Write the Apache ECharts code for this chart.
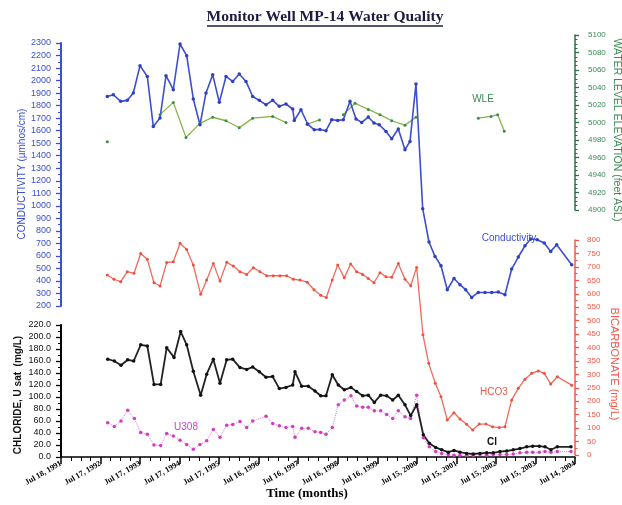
<!DOCTYPE html>
<html><head><meta charset="utf-8">
<script src="https://cdn.jsdelivr.net/npm/echarts@6/dist/echarts.min.js"></script>
<style>html,body{margin:0;padding:0;background:#fff}#c{width:622px;height:505px}</style>
</head><body><div id="c"></div><script>
// x values are years elapsed since Jul 18, 1991
const xTickLabels = ['Jul 18, 1991','Jul 17, 1992','Jul 17, 1993','Jul 17, 1994','Jul 17, 1995','Jul 16, 1996','Jul 16, 1997','Jul 16, 1998','Jul 16, 1999','Jul 15, 2000','Jul 15, 2001','Jul 15, 2002','Jul 15, 2003','Jul 14, 2004'];

const condT = [1.171,1.323,1.510,1.677,1.829,1.998,2.183,2.334,2.504,2.656,2.840,3.010,3.179,3.346,3.515,3.667,3.837,4.004,4.173,4.342,4.509,4.679,4.848,5.015,5.185,5.354,5.521,5.690,5.860,5.900,6.070,6.239,6.406,6.550,6.702,6.846,6.998,7.140,7.309,7.461,7.605,7.772,7.916,8.050,8.220,8.364,8.531,8.700,8.827,8.978,9.148,9.307,9.459,9.611,9.770,9.939,10.091,10.235,10.387,10.554,10.723,10.893,11.060,11.229,11.398,11.566,11.735,11.879,12.046,12.223,12.385,12.537,12.916];
const condV = [1873,1887,1834,1842,1901,2119,2033,1634,1701,2039,1927,2292,2199,1853,1647,1901,2047,1826,2033,1993,2052,1993,1873,1842,1807,1842,1794,1813,1773,1682,1767,1653,1607,1610,1600,1687,1682,1687,1834,1693,1666,1709,1661,1647,1594,1536,1613,1448,1514,1973,977,711,596,521,330,420,370,330,268,308,308,308,311,290,495,591,681,735,729,703,636,689,529];

const wleT = [1.171,1.3,2.504,2.840,3.161,3.515,3.837,4.173,4.509,4.848,5.354,5.690,5.9,6.221,6.538,6.8,7.140,7.436,7.772,8.068,8.364,8.700,8.978,9.2,10.554,10.875,11.044,11.211];
const wleV = [4978,null,5009,5023,4983,4999,5006,5002,4994,5005,5007,5000,null,4998,5003,null,5009,5022,5015,5009,5002,4997,5006,null,5005,5007,5009,4990];

const hco3T = [1.171,1.340,1.510,1.677,1.846,2.016,2.183,2.352,2.504,2.673,2.840,3.010,3.179,3.346,3.533,3.685,3.852,4.021,4.191,4.358,4.527,4.697,4.863,5.033,5.202,5.369,5.539,5.708,5.875,6.044,6.229,6.399,6.568,6.710,6.861,6.998,7.165,7.327,7.478,7.630,7.772,7.916,8.068,8.220,8.364,8.531,8.700,8.844,8.996,9.155,9.300,9.467,9.611,9.770,9.939,10.091,10.260,10.412,10.579,10.749,10.918,11.085,11.229,11.398,11.566,11.735,11.904,12.071,12.223,12.385,12.552,12.916];
const hco3V = [670,654,645,682,676,750,728,641,629,716,719,788,765,707,598,651,713,647,717,703,682,672,697,682,667,667,667,667,654,651,643,615,594,586,651,707,660,711,682,672,657,641,678,663,661,713,654,630,698,447,341,267,217,130,157,134,114,93,115,115,105,102,105,205,248,282,304,313,304,264,291,260];

const clT = [1.181,1.348,1.517,1.687,1.839,2.016,2.183,2.352,2.521,2.673,2.858,3.027,3.179,3.346,3.533,3.685,3.852,4.021,4.191,4.342,4.527,4.697,4.848,5.015,5.185,5.354,5.521,5.690,5.860,5.918,6.087,6.254,6.424,6.568,6.702,6.861,7.013,7.165,7.334,7.478,7.630,7.772,7.924,8.085,8.237,8.389,8.531,8.700,8.844,8.996,9.163,9.315,9.477,9.628,9.795,9.939,10.091,10.260,10.427,10.597,10.766,10.933,11.103,11.272,11.439,11.608,11.778,11.930,12.097,12.241,12.392,12.552,12.898];
const clV = [163,160,153,162,160,187,185,121,121,182,166,209,187,143,103,138,163,123,162,163,149,146,150,142,133,134,114,116,120,142,118,118,110,102,102,137,120,112,116,109,102,103,91,103,102,95,103,87,69,87,37,23,16,12,8,11,8,6,5,6,7,7,9,10,12,14,17,18,18,17,12,17,17];

const u3o8T = [1.181,1.348,1.517,1.687,1.855,2.016,2.183,2.352,2.521,2.673,2.840,3.010,3.179,3.346,3.515,3.685,3.852,4.021,4.191,4.342,4.527,4.697,4.848,5.185,5.354,5.521,5.690,5.860,5.918,6.087,6.254,6.424,6.568,6.702,6.861,7.013,7.165,7.334,7.478,7.630,7.772,7.924,8.085,8.237,8.389,8.531,8.700,8.844,8.996,9.163,9.315,9.477,9.628,9.795,9.939,10.091,10.260,10.427,10.597,10.766,10.933,11.103,11.272,11.439,11.608,11.778,11.930,12.097,12.241,12.392,12.552,12.898];
const u3o8V = [57,51,60,78,64,41,38,20,19,39,35,28,21,13,21,27,46,33,53,54,59,49,60,68,56,52,49,51,33,48,48,42,41,38,49,87,95,102,85,83,83,77,77,71,64,77,67,64,103,32,17,9,6,4,3,3,3,3,4,3,4,4,4,5,7,8,8,8,9,8,9,9];

const pair = (T, V) => T.map((t, i) => [t, V[i] == null ? '-' : V[i]]);

const BLUE = '#3d4fcf', GREEN = '#3a8a55', RED = '#f0584a', MAG = '#d23cc4';
const G = { left: 61, right: 47 };
const hiddenX = i => ({ type: 'value', gridIndex: i, min: 0, max: 13, interval: 1, show: false });
const yBase = (grid, pos, min, max, interval, lineColor, labelColor, fs, margin, minorSplit, fmt) => ({
  type: 'value', gridIndex: grid, position: pos, min, max, interval,
  axisLine: { show: true, onZero: false, lineStyle: { color: lineColor, width: pos === 'left' ? 2 : 1.5 } },
  axisTick: { show: true, length: pos === 'left' ? 5 : 4, lineStyle: { color: lineColor, width: 1.3 } },
  minorTick: { show: true, splitNumber: minorSplit, length: pos === 'left' ? 3 : 2.5, lineStyle: { color: lineColor } },
  axisLabel: { color: labelColor, fontSize: fs, margin, fontFamily: 'Liberation Sans', formatter: fmt },
  splitLine: { show: false }
});
const vtext = (text, x, y, rot, color, font) => ({
  type: 'text', x, y, rotation: rot,
  style: { text, font, fill: color, align: 'center', verticalAlign: 'middle' }
});

const chart = echarts.init(document.getElementById('c'), null, { renderer: 'canvas' });
chart.setOption({
  animation: false,
  backgroundColor: '#fff',
  grid: [
    { left: G.left, right: G.right, top: 43, height: 263 },
    { left: G.left, right: G.right, top: 35, height: 175 },
    { left: G.left, right: G.right, top: 240, height: 215 },
    { left: G.left, right: G.right, top: 325, height: 132 }
  ],
  xAxis: [hiddenX(0), hiddenX(1), hiddenX(2), {
    type: 'value', gridIndex: 3, min: 0, max: 13, interval: 1,
    axisLine: { show: true, onZero: false, lineStyle: { color: '#000', width: 1.5 } },
    axisTick: { show: true, length: 7, lineStyle: { color: '#000', width: 1.5 } },
    minorTick: { show: true, splitNumber: 4, length: 4, lineStyle: { color: '#000', width: 1 } },
    axisLabel: { rotate: 30, margin: 6, fontFamily: 'Liberation Serif', fontWeight: 'bold', fontSize: 8, color: '#000',
      formatter: v => xTickLabels[Math.round(v)] },
    splitLine: { show: false }
  }],
  yAxis: [
    yBase(0, 'left', 200, 2300, 100, BLUE, BLUE, 9, 10, 2, v => String(v)),
    yBase(1, 'right', 4900, 5100, 20, '#2f6b4a', GREEN, 8, 13, 4, v => String(v)),
    yBase(2, 'right', 0, 800, 50, RED, RED, 8, 12, 2, v => String(v)),
    yBase(3, 'left', 0, 220, 20, '#000', '#111', 9, 10, 2, v => v.toFixed(1))
  ],
  graphic: [
    { type: 'text', x: 325, y: 17, style: { text: 'Monitor Well MP-14 Water Quality', font: 'bold 15.5px "Liberation Serif"', fill: '#1c1c40', align: 'center', verticalAlign: 'middle' } },
    { type: 'line', shape: { x1: 207, y1: 26, x2: 443, y2: 26 }, style: { stroke: '#1c1c40', lineWidth: 1.5 } },
    { type: 'text', x: 307, y: 494, style: { text: 'Time (months)', font: 'bold 13px "Liberation Serif"', fill: '#000', align: 'center', verticalAlign: 'middle' } },
    vtext('CONDUCTIVITY (µmhos/cm)', 22, 174, Math.PI / 2, BLUE, '10px "Liberation Sans"'),
    vtext('CHLORIDE, U sat  (mg/L)', 18, 395, Math.PI / 2, '#111', 'bold 10px "Liberation Sans"'),
    vtext('WATER LEVEL ELEVATION (feet ASL)', 617, 130, -Math.PI / 2, GREEN, '10.5px "Liberation Sans"'),
    vtext('BICARBONATE (mg/L)', 614, 364, -Math.PI / 2, RED, '11px "Liberation Sans"'),
    { type: 'text', x: 483, y: 99, style: { text: 'WLE', font: '10px "Liberation Sans"', fill: GREEN, align: 'center', verticalAlign: 'middle' } },
    { type: 'text', x: 509, y: 238, style: { text: 'Conductivity', font: '10px "Liberation Sans"', fill: BLUE, align: 'center', verticalAlign: 'middle' } },
    { type: 'text', x: 494, y: 392, style: { text: 'HCO3', font: '10px "Liberation Sans"', fill: RED, align: 'center', verticalAlign: 'middle' } },
    { type: 'text', x: 492, y: 442, style: { text: 'Cl', font: 'bold 10px "Liberation Sans"', fill: '#111', align: 'center', verticalAlign: 'middle' } },
    { type: 'text', x: 186, y: 427, style: { text: 'U308', font: '10px "Liberation Sans"', fill: MAG, align: 'center', verticalAlign: 'middle' } }
  ],
  series: [
    { name: 'WLE', type: 'line', xAxisIndex: 1, yAxisIndex: 1, data: pair(wleT, wleV), connectNulls: false,
      symbol: 'circle', symbolSize: 3, showAllSymbol: true,
      lineStyle: { color: '#86b341', width: 1.3 }, itemStyle: { color: '#3a8f50' } },
    { name: 'Conductivity', type: 'line', xAxisIndex: 0, yAxisIndex: 0, data: pair(condT, condV),
      symbol: 'circle', symbolSize: 3.5, showAllSymbol: true,
      lineStyle: { color: BLUE, width: 1.6 }, itemStyle: { color: '#2f3fbf' } },
    { name: 'HCO3', type: 'line', xAxisIndex: 2, yAxisIndex: 2, data: pair(hco3T, hco3V),
      symbol: 'circle', symbolSize: 3, showAllSymbol: true,
      lineStyle: { color: '#f26a5c', width: 1.3 }, itemStyle: { color: '#ee5040' } },
    { name: 'U3O8', type: 'line', xAxisIndex: 3, yAxisIndex: 3, data: pair(u3o8T, u3o8V),
      symbol: 'circle', symbolSize: 3.5, showAllSymbol: true,
      lineStyle: { color: '#e27ad6', width: 1, type: 'dotted' }, itemStyle: { color: MAG } },
    { name: 'Cl', type: 'line', xAxisIndex: 3, yAxisIndex: 3, data: pair(clT, clV),
      symbol: 'circle', symbolSize: 3.5, showAllSymbol: true,
      lineStyle: { color: '#222', width: 1.8 }, itemStyle: { color: '#111' } }
  ]
});
</script></body></html>
